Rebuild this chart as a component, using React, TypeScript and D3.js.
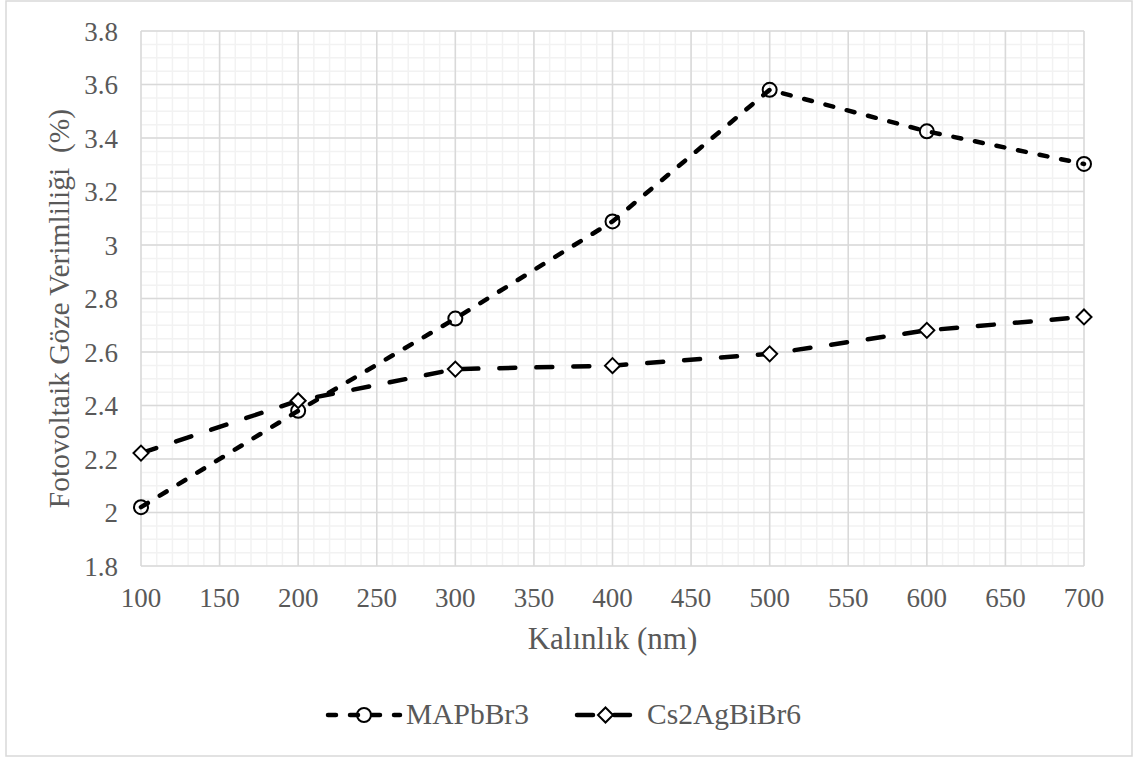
import React from "react";
import * as d3 from "d3";

// Thickness of the absorber layer (nm)
const thickness = [100, 200, 300, 400, 500, 600, 700];
// Photovoltaic cell efficiency (%)
const mapbbr3 = [2.02, 2.38, 2.725, 3.088, 3.58, 3.425, 3.303];
const cs2agbibr6 = [2.222, 2.418, 2.536, 2.549, 2.593, 2.681, 2.731];

const seriesNames = ["MAPbBr3", "Cs2AgBiBr6"];
const xTicks = [100, 150, 200, 250, 300, 350, 400, 450, 500, 550, 600, 650, 700];
const yTicks = [1.8, 2, 2.2, 2.4, 2.6, 2.8, 3, 3.2, 3.4, 3.6, 3.8];

const W = 1134;
const H = 758;
const plot = { left: 141, right: 1084, top: 31, bottom: 566 };
const font = "'Times New Roman', 'Liberation Serif', 'DejaVu Serif', 'Noto Serif', serif";
const textColor = "#595959";

const x = d3.scaleLinear().domain([100, 700]).range([plot.left, plot.right]);
const y = d3.scaleLinear().domain([1.8, 3.8]).range([plot.bottom, plot.top]);

const minorX = d3.range(100, 700.001, 10);
const minorY = d3.range(1.8, 3.8001, 0.05);

const line = d3
  .line<[number, number]>()
  .x((d) => x(d[0]))
  .y((d) => y(d[1]));

const styles = [
  { dash: "8 14", marker: "circle" },
  { dash: "16 21", marker: "diamond" },
];

function Marker({ kind, cx, cy }: { kind: string; cx: number; cy: number }) {
  if (kind === "circle") {
    return <circle cx={cx} cy={cy} r={7} fill="none" stroke="#000" strokeWidth={2} />;
  }
  const s = 7.5;
  return (
    <path
      d={`M${cx},${cy - s}L${cx + s},${cy}L${cx},${cy + s}L${cx - s},${cy}Z`}
      fill="#fff"
      stroke="#000"
      strokeWidth={2}
    />
  );
}

const T = (props: any) => <text {...props} style={{ fontFamily: font, whiteSpace: "pre" }} />;

export default function App() {
  const data = [mapbbr3, cs2agbibr6];
  const legend = [
    { x0: 328, x1: 400, text: 406 },
    { x0: 577, x1: 634, text: 647 },
  ];
  return (
    <svg
      width={W}
      height={H}
      style={{ position: "absolute", left: 0, top: 0, background: "#fff", fontFamily: font }}
    >
      <rect x={0} y={0} width={W} height={H} fill="#fff" />
      <rect x={6} y={1} width={1126} height={755} fill="#fff" stroke="#d9d9d9" strokeWidth={1.5} />

      {/* minor grid */}
      <g stroke="#f2f2f2" strokeWidth={1.5}>
        {minorX.map((v) => (
          <line key={"mx" + v} x1={x(v)} x2={x(v)} y1={plot.top} y2={plot.bottom} />
        ))}
        {minorY.map((v) => (
          <line key={"my" + v} x1={plot.left} x2={plot.right} y1={y(v)} y2={y(v)} />
        ))}
      </g>
      {/* major grid */}
      <g stroke="#d9d9d9" strokeWidth={1.5}>
        {xTicks.map((v) => (
          <line key={"gx" + v} x1={x(v)} x2={x(v)} y1={plot.top} y2={plot.bottom} />
        ))}
        {yTicks.map((v) => (
          <line key={"gy" + v} x1={plot.left} x2={plot.right} y1={y(v)} y2={y(v)} />
        ))}
      </g>

      {/* tick labels */}
      <g fill={textColor} fontSize={27}>
        {xTicks.map((v) => (
          <T key={"tx" + v} x={x(v)} y={607} textAnchor="middle">
            {v}
          </T>
        ))}
        {yTicks.map((v) => (
          <T key={"ty" + v} x={118} y={y(v) + 9.5} textAnchor="end">
            {d3.format("~g")(v)}
          </T>
        ))}
      </g>

      {/* axis titles */}
      <T x={(plot.left + plot.right) / 2} y={649} textAnchor="middle" fill={textColor} fontSize={31}>
        Kalınlık (nm)
      </T>
      <T
        transform={`translate(69, ${(plot.top + plot.bottom) / 2 + 10}) rotate(-90)`}
        textAnchor="middle"
        fill={textColor}
        fontSize={29.5}
      >
        {"Fotovoltaik Göze Verimliliği  (%)"}
      </T>

      {/* series */}
      {data.map((vals, i) => {
        const pts = thickness.map((t, j) => [t, vals[j]] as [number, number]);
        return (
          <g key={seriesNames[i]}>
            <path
              d={line(pts) || ""}
              fill="none"
              stroke="#000"
              strokeWidth={4.5}
              strokeLinecap="round"
              strokeDasharray={styles[i].dash}
            />
            {pts.map((p, j) => (
              <Marker key={j} kind={styles[i].marker} cx={x(p[0])} cy={y(p[1])} />
            ))}
          </g>
        );
      })}

      {/* legend */}
      {legend.map((l, i) => (
        <g key={"lg" + i}>
          <line
            x1={l.x0}
            x2={l.x1}
            y1={715}
            y2={715}
            stroke="#000"
            strokeWidth={4.5}
            strokeLinecap="round"
            strokeDasharray={styles[i].dash}
          />
          <Marker kind={styles[i].marker} cx={(l.x0 + l.x1) / 2} cy={715} />
          <T x={l.text} y={724} fill={textColor} fontSize={29.5}>
            {seriesNames[i]}
          </T>
        </g>
      ))}
    </svg>
  );
}
